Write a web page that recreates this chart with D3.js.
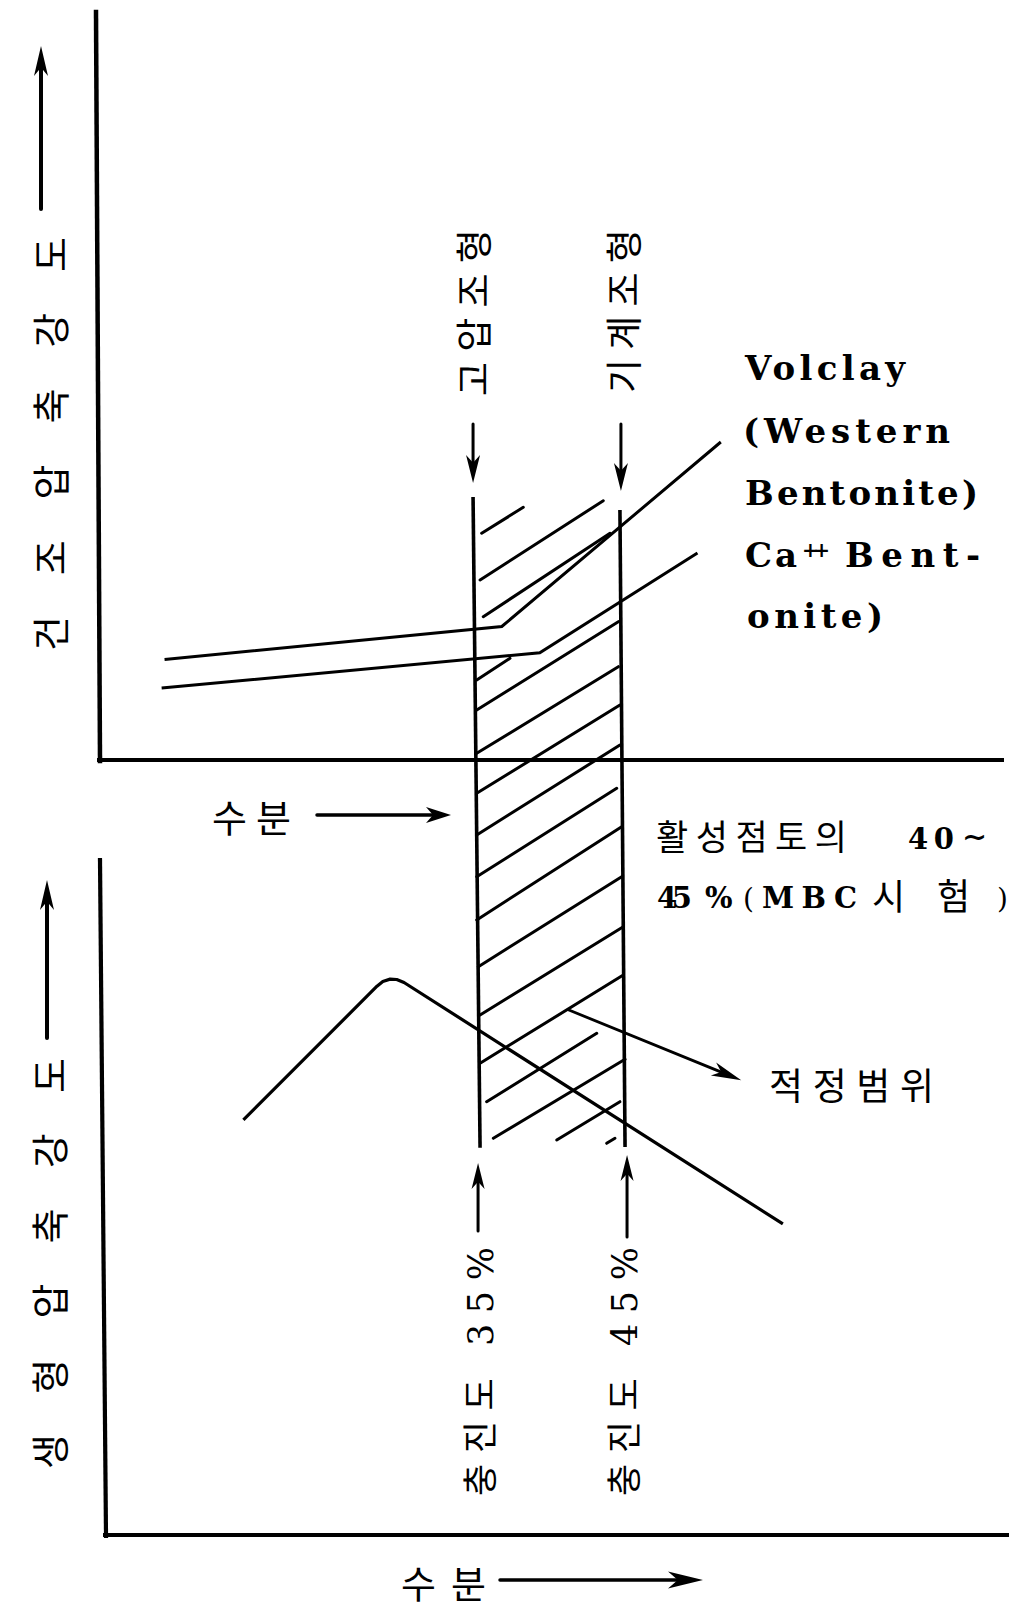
<!DOCTYPE html>
<html><head><meta charset="utf-8">
<script src="https://cdn.jsdelivr.net/npm/d3@7"></script>
<style>html,body{margin:0;padding:0;background:#fff;} svg{display:block;background:#fff;}</style>
</head><body>
<svg id="chart" width="1019" height="1610"></svg>
<script>
// ---------------- data ----------------
const bandLimits = [35, 45];                       // 충진도 %
const bandLabels = ["충진도 35%", "충진도 45%"];
const moldingLabels = ["고압조형", "기계조형"];
const dryAxisLabel = "건조압축강도";
const greenAxisLabel = "생형압축강도";
const moistureLabel = "수분";
const rangeLabel = "적정범위";

// top panel: dry compressive strength vs moisture
const volclayMoisture = [13.6, 36.7, 51.7];
const volclayStrength = [13.4, 17.8, 42.4];
const caBentMoisture = [13.4, 39.3, 50.1];
const caBentStrength = [9.6, 14.3, 27.6];

// bottom panel: green compressive strength vs moisture
const greenMoisture = [19.0, 28.15, 28.55, 29.05, 29.5, 30.0, 55.95];
const greenStrength = [61.5, 81.3, 82.0, 82.35, 82.3, 81.85, 46.1];

// band edges (scan is slightly skewed): moisture and strength at top / bottom
const bandEdgeMoisture = [[34.73, 35.21], [44.79, 45.14]];
const bandEdgeStrength = [[35.07, -51.7], [33.33, -51.6]];

// hatch strokes of the band (moisture, strength) start -> end
const hatchM1 = [35.32, 35.21, 35.43, 34.98, 34.98, 34.98, 34.98, 34.98, 34.98, 34.98, 35.09, 35.21, 35.21, 35.66, 36.12, 40.46, 43.88];
const hatchS1 = [30.23, 24.0, 19.11, 10.67, 6.67, 0.89, -4.44, -10.0, -15.56, -21.33, -27.56, -34.0, -40.44, -45.56, -50.44, -50.67, -51.11];
const hatchM2 = [38.17, 43.65, 44.11, 37.26, 44.68, 44.68, 44.79, 44.79, 44.57, 44.91, 44.91, 45.02, 45.02, 43.2, 45.14, 44.79, 44.45];
const hatchS2 = [33.69, 34.57, 30.23, 13.56, 18.44, 12.44, 7.33, 2.0, -3.77, -8.89, -15.56, -22.23, -28.67, -36.44, -39.91, -45.56, -50.44];

// ---------------- layout ----------------
const svg = d3.select("#chart");
const x = d3.scaleLinear().domain([35, 45]).range([477, 623]);
const yTop = d3.scaleLinear().domain([0, 100]).range([760, 10]);
const yBot = d3.scaleLinear().domain([0, 100]).range([1535, 860]);
const KR = "'Noto Sans CJK KR', 'Noto Sans', sans-serif";
const SERIF = "'DejaVu Serif', 'Noto Sans CJK KR', serif";

function arrow(x1, y1, x2, y2, o) {
  const len = Math.hypot(x2 - x1, y2 - y1), ux = (x2 - x1) / len, uy = (y2 - y1) / len;
  const px = -uy, py = ux;
  const bx = x2 - ux * o.head, by = y2 - uy * o.head;
  const nx = x2 - ux * o.head * 0.72, ny = y2 - uy * o.head * 0.72;
  svg.append("line").attr("x1", x1).attr("y1", y1).attr("x2", nx).attr("y2", ny)
    .attr("stroke", "#000").attr("stroke-width", o.w).attr("stroke-linecap", "round");
  svg.append("path")
    .attr("d", `M${x2},${y2}L${bx + px * o.half},${by + py * o.half}L${nx},${ny}L${bx - px * o.half},${by - py * o.half}Z`)
    .attr("fill", "#000");
}
function vtext(str, cx, yBottom, len, size, family) {
  svg.append("text").attr("transform", `translate(${cx},${yBottom}) rotate(-90)`)
    .attr("dominant-baseline", "central").attr("font-family", family || KR)
    .attr("font-size", size).attr("textLength", len).attr("lengthAdjust", "spacing")
    .attr("fill", "#000").text(str);
}
function htext(str, x0, yb, len, size, family, weight) {
  const t = svg.append("text").attr("x", x0).attr("y", yb)
    .attr("font-family", family || KR).attr("font-size", size)
    .attr("font-weight", weight || "normal").attr("fill", "#000").text(str);
  if (len) t.attr("textLength", len).attr("lengthAdjust", "spacing");
  return t;
}

// ---------------- axes (frames) ----------------
const axisStyle = s => s.attr("stroke", "#000").attr("stroke-linecap", "square");
axisStyle(svg.append("line").attr("x1", 96).attr("y1", 12).attr("x2", 100).attr("y2", 761).attr("stroke-width", 4.5));
axisStyle(svg.append("line").attr("x1", 99).attr("y1", yTop(0)).attr("x2", 1002).attr("y2", yTop(0)).attr("stroke-width", 4));
axisStyle(svg.append("line").attr("x1", 100).attr("y1", 860).attr("x2", 106).attr("y2", 1536).attr("stroke-width", 4.2));
axisStyle(svg.append("line").attr("x1", 105).attr("y1", yBot(0)).attr("x2", 1007).attr("y2", yBot(0)).attr("stroke-width", 4));

// ---------------- band edges & hatch ----------------
bandEdgeMoisture.forEach((m, i) => {
  svg.append("line").attr("x1", x(m[0])).attr("y1", yTop(bandEdgeStrength[i][0]))
    .attr("x2", x(m[1])).attr("y2", yTop(bandEdgeStrength[i][1]))
    .attr("stroke", "#000").attr("stroke-width", 3.6);
});
svg.append("g").selectAll("line").data(d3.range(hatchM1.length)).join("line")
  .attr("x1", i => x(hatchM1[i])).attr("y1", i => yTop(hatchS1[i]))
  .attr("x2", i => x(hatchM2[i])).attr("y2", i => yTop(hatchS2[i]))
  .attr("stroke", "#000").attr("stroke-width", 3).attr("stroke-linecap", "round");

// ---------------- series ----------------
const lineTop = d3.line().x(d => x(d[0])).y(d => yTop(d[1]));
const lineBot = d3.line().x(d => x(d[0])).y(d => yBot(d[1]));
svg.append("path").attr("d", lineTop(d3.zip(volclayMoisture, volclayStrength)))
  .attr("fill", "none").attr("stroke", "#000").attr("stroke-width", 3);
svg.append("path").attr("d", lineTop(d3.zip(caBentMoisture, caBentStrength)))
  .attr("fill", "none").attr("stroke", "#000").attr("stroke-width", 3);
svg.append("path").attr("d", lineBot(d3.zip(greenMoisture, greenStrength)))
  .attr("fill", "none").attr("stroke", "#000").attr("stroke-width", 3.2).attr("stroke-linejoin", "round");

// ---------------- arrows ----------------
arrow(41, 209, 41, 46, { w: 4, head: 30, half: 7 });
arrow(47, 1038, 47, 880, { w: 4, head: 30, half: 7 });
arrow(x(bandEdgeMoisture[0][0]), 424, x(bandEdgeMoisture[0][0]), 483, { w: 3, head: 28, half: 7 });
arrow(x(bandEdgeMoisture[1][0]) + 1, 424, x(bandEdgeMoisture[1][0]) + 1, 491, { w: 3, head: 28, half: 7 });
arrow(x(bandEdgeMoisture[0][1]) - 2, 1231, x(bandEdgeMoisture[0][1]) - 2, 1163, { w: 3, head: 26, half: 6.5 });
arrow(x(bandEdgeMoisture[1][1]) + 2, 1237, x(bandEdgeMoisture[1][1]) + 2, 1155, { w: 3, head: 26, half: 6.5 });
arrow(317, 815, 451, 815, { w: 3.5, head: 25, half: 8 });
arrow(500, 1580, 703, 1580, { w: 3.5, head: 35, half: 8.5 });
arrow(x(41.25), yTop(-33.3), x(53.1), yTop(-42.7), { w: 2.8, head: 30, half: 7 });

// ---------------- labels ----------------
vtext(dryAxisLabel, 48, 651, 414, 38);
vtext(greenAxisLabel, 47, 1469, 411, 38);
vtext(moldingLabels[0], 472, 396, 167, 37);
vtext(moldingLabels[1], 622, 393, 164, 37);
vtext(bandLabels[0], 481, 1496, 249, 35, SERIF);
vtext(bandLabels[1], 625, 1496, 249, 35, SERIF);

htext(moistureLabel, 212, 832, 79, 38);
htext(moistureLabel, 401, 1598, 85, 38);
htext(rangeLabel, 769, 1100, 165, 37);

// series labels
htext("Volclay", 745, 380, 160, 34, SERIF, "bold");
htext("(Western", 743, 443, 207, 34, SERIF, "bold");
htext("Bentonite)", 745, 505, 233, 34, SERIF, "bold");
htext("Ca", 745, 567, 52, 34, SERIF, "bold");
htext("++", 802, 557, 28, 20, SERIF, "bold");
htext("Bent-", 845, 567, 135, 34, SERIF, "bold");
htext("onite)", 747, 628, 136, 34, SERIF, "bold");

// MBC note
htext("활성점토의", 656, 850, 191, 35);
htext("40", 908, 849, 46, 29, SERIF, "bold");
htext("∼", 962, 847, null, 30, SERIF, "bold");
htext("45", 657, 908, 35, 29, SERIF, "bold");
htext("%", 705, 908, 32, 29, SERIF, "bold");
htext("(", 743, 908, null, 28, SERIF, "normal");
htext("MBC", 762, 908, 95, 29, SERIF, "bold");
htext("시험", 872, 910, 98, 36);
htext(")", 997, 908, null, 28, SERIF, "normal");
</script>
</body></html>
